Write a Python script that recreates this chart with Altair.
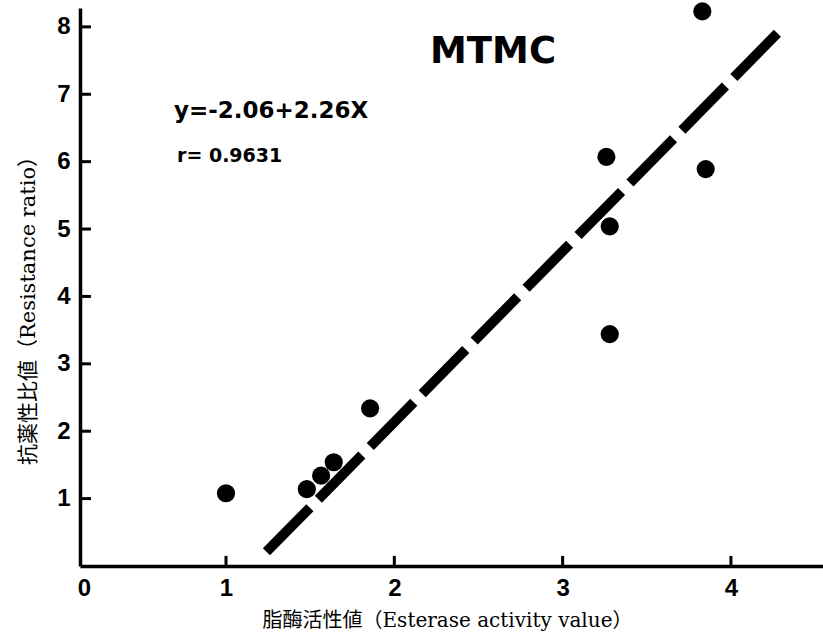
import altair as alt
import pandas as pd

# ---- data ----
esterase = [1.00, 1.48, 1.565, 1.64, 1.856, 3.26, 3.28, 3.28, 3.83, 3.85]
resistance = [1.08, 1.14, 1.34, 1.54, 2.34, 6.07, 5.04, 3.44, 8.23, 5.89]

fit_x = [1.24, 4.29]
fit_y = [0.21, 7.94]

x_tick_values = [1, 2, 3, 4]
y_tick_values = [1, 2, 3, 4, 5, 6, 7, 8]
x_label_values = [0.156, 1, 2, 3, 4]

title_text = "MTMC"
equation_text = "y=-2.06+2.26X"
r_text = "r= 0.9631"
x_title = "脂酶活性値（Esterase activity value）"
y_title = "抗薬性比値（Resistance ratio）"

# ---- scales ----
X_DOM = [0.1325, 4.547]
Y_DOM = [0, 8.28]
xs = alt.Scale(domain=X_DOM, nice=False, zero=False)
ys = alt.Scale(domain=Y_DOM, nice=False, zero=False)

TICK_FONT = "Liberation Sans"
TITLE_FONT = "DejaVu Serif, Noto Sans CJK JP"

pts = pd.DataFrame({"x": esterase, "y": resistance})
fit = pd.DataFrame({"x": fit_x, "y": fit_y})

base_axes = alt.Chart(pd.DataFrame({"x": [X_DOM[0]], "y": [Y_DOM[0]]})).mark_point(opacity=0).encode(
    x=alt.X("x:Q", scale=xs, axis=alt.Axis(
        values=x_label_values,
        labelExpr="datum.value < 0.5 ? '0' : format(datum.value, 'd')",
        grid=False, ticks=False, domainColor="black", domainWidth=3.5,
        labelFont=TICK_FONT, labelFontWeight="bold", labelFontSize=24, labelColor="black",
        labelPadding=10, labelFlush=False,
        title=x_title, titleFont=TITLE_FONT, titleFontSize=20, titleFontWeight="normal",
        titleColor="black", titleX=367, titleY=54, titleBaseline="middle", titleAlign="center",
    )),
    y=alt.Y("y:Q", scale=ys, axis=alt.Axis(
        values=y_tick_values, format="d",
        grid=False, ticks=False, domainColor="black", domainWidth=3.5,
        labelFont=TICK_FONT, labelFontWeight="bold", labelFontSize=24, labelColor="black",
        labelPadding=10, labelFlush=False,
        title=y_title, titleFont=TITLE_FONT, titleFontSize=21, titleFontWeight="normal",
        titleColor="black", titleX=-52, titleY=297, titleAngle=-90,
        titleBaseline="middle", titleAlign="center",
    )),
)

# inward ticks, built from the tick value lists
xtick_data = alt.Data(values=[{"tx": float(v), "ty": 0.0, "ty2": 0.15} for v in x_tick_values])
x_ticks = alt.Chart(xtick_data).mark_rule(color="black", strokeWidth=3).encode(
    x=alt.X("tx:Q", scale=xs),
    y=alt.Y("ty:Q", scale=ys),
    y2=alt.Y2("ty2:Q"),
)
ytick_data = alt.Data(values=[{"ty": float(v), "tx": X_DOM[0], "tx2": X_DOM[0] + 0.065} for v in y_tick_values])
y_ticks = alt.Chart(ytick_data).mark_rule(color="black", strokeWidth=3).encode(
    y=alt.Y("ty:Q", scale=ys),
    x=alt.X("tx:Q", scale=xs),
    x2=alt.X2("tx2:Q"),
)

fit_line = alt.Chart(fit).mark_line(
    color="black", strokeWidth=10, strokeDash=[62, 12], strokeCap="butt"
).encode(x=alt.X("x:Q", scale=xs), y=alt.Y("y:Q", scale=ys))

points = alt.Chart(pts).mark_circle(color="black", size=330, opacity=1).encode(
    x=alt.X("x:Q", scale=xs), y=alt.Y("y:Q", scale=ys)
)

ann = pd.DataFrame({
    "x": [2.212, 0.691, 0.709],
    "y": [7.46, 6.647, 5.99],
    "t": [title_text, equation_text, r_text],
    "s": [37, 23, 19],
})
annotations = alt.Chart(ann).mark_text(
    align="left", baseline="alphabetic", font="DejaVu Sans", fontWeight="bold", color="black"
).encode(
    x=alt.X("x:Q", scale=xs), y=alt.Y("y:Q", scale=ys), text="t:N",
    size=alt.Size("s:Q", scale=None, legend=None),
)

chart = alt.layer(base_axes, fit_line, points, annotations, x_ticks, y_ticks).properties(
    width=743, height=558,
    autosize=alt.AutoSizeParams(type="none"),
    padding={"left": 80, "top": 8, "right": 0, "bottom": 72},
    background="white",
).configure_view(stroke=None)

chart.save("out.html", embed_options={"renderer": "svg", "actions": False})
